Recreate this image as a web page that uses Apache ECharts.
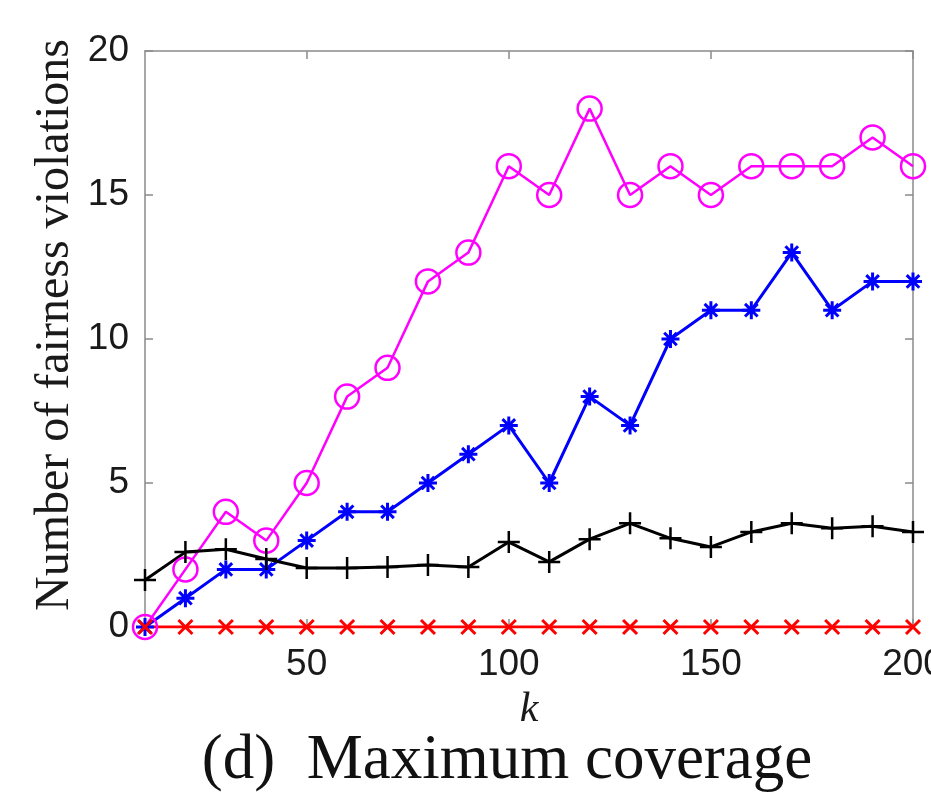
<!DOCTYPE html>
<html>
<head>
<meta charset="utf-8">
<script src="https://cdn.jsdelivr.net/npm/echarts@6/dist/echarts.min.js"></script>
<style>
html, body { margin: 0; padding: 0; background: #fff; }
#chart { width: 931px; height: 802px; }
</style>
</head>
<body>
<div id="chart"></div>
<script>
// k values on the x axis
var kValues = [10, 20, 30, 40, 50, 60, 70, 80, 90, 100, 110, 120, 130, 140, 150, 160, 170, 180, 190, 200];
var xTicks = [50, 100, 150, 200];

// series
var magentaCircle = [0, 2, 4, 3, 5, 8, 9, 12, 13, 16, 15, 18, 15, 16, 15, 16, 16, 16, 17, 16];
var blueStar = [0, 1, 2, 2, 3, 4, 4, 5, 6, 7, 5, 8, 7, 10, 11, 11, 13, 11, 12, 12];
var blackPlus = [1.63, 2.6, 2.7, 2.36, 2.05, 2.05, 2.08, 2.15, 2.08, 2.95, 2.26, 3.05, 3.6, 3.08, 2.78, 3.3, 3.6, 3.43, 3.5, 3.3];
var redCross = [0, 0, 0, 0, 0, 0, 0, 0, 0, 0, 0, 0, 0, 0, 0, 0, 0, 0, 0, 0];

var PLUS = 'path://M0,5L10,5M5,0L5,10';
var CROSS = 'path://M0,0L10,10M0,10L10,0';
var STAR = 'path://M0,5L10,5M5,0L5,10M1.5,1.5L8.5,8.5M1.5,8.5L8.5,1.5';

function pairs(vals) {
    var out = [];
    for (var i = 0; i < kValues.length; i++) out.push([kValues[i], vals[i]]);
    return out;
}

var chart = echarts.init(document.getElementById('chart'));

var axisGray = { color: '#8a8a8a', width: 1.5 };
var tickFont = { fontFamily: 'Liberation Sans', fontSize: 37, color: '#1a1a1a' };

var option = {
    backgroundColor: '#fff',
    animation: false,
    grid: { left: 145, right: 18, top: 51, bottom: 175, containLabel: false, outerBoundsMode: 'none' },
    xAxis: [
        {
            type: 'value', min: 10, max: 200, position: 'bottom',
            axisLine: { show: true, onZero: false, lineStyle: axisGray },
            axisTick: { show: true, inside: true, length: 8, customValues: xTicks, lineStyle: axisGray },
            axisLabel: Object.assign({ margin: 19, customValues: xTicks, hideOverlap: false }, tickFont),
            splitLine: { show: false },
            name: 'k', nameLocation: 'middle', nameGap: 62, nameMoveOverlap: false,
            nameTextStyle: { fontFamily: 'Liberation Serif', fontStyle: 'italic', fontSize: 42, color: '#1a1a1a' }
        },
        {
            type: 'value', min: 10, max: 200, position: 'top',
            axisLine: { show: true, onZero: false, lineStyle: axisGray },
            axisTick: { show: true, inside: true, length: 8, customValues: xTicks, lineStyle: axisGray },
            axisLabel: { show: false },
            splitLine: { show: false }
        }
    ],
    yAxis: [
        {
            type: 'value', min: 0, max: 20, interval: 5, position: 'left',
            axisLine: { show: true, onZero: false, lineStyle: axisGray },
            axisTick: { show: true, inside: true, length: 8, lineStyle: axisGray },
            axisLabel: Object.assign({ margin: 16 }, tickFont),
            splitLine: { show: false },
            name: 'Number of fairness violations', nameLocation: 'middle', nameRotate: 90, nameGap: 66,
            nameMoveOverlap: false,
            nameTextStyle: { fontFamily: 'Liberation Serif', fontSize: 48, color: '#1a1a1a', padding: [0, 0, 0, 28] }
        },
        {
            type: 'value', min: 0, max: 20, interval: 5, position: 'right',
            axisLine: { show: true, onZero: false, lineStyle: axisGray },
            axisTick: { show: true, inside: true, length: 8, lineStyle: axisGray },
            axisLabel: { show: false },
            splitLine: { show: false }
        }
    ],
    graphic: [
        {
            type: 'text', x: 507, y: 761,
            style: {
                text: '(d)  Maximum coverage', fill: '#111',
                font: '63px "Liberation Serif"', textAlign: 'center', textVerticalAlign: 'middle'
            }
        }
    ],
    series: [
        {
            name: 'magenta', type: 'line', data: pairs(magentaCircle),
            symbol: 'circle', symbolSize: 24,
            lineStyle: { color: '#ff00ff', width: 2.5 },
            itemStyle: { color: 'rgba(0,0,0,0)', borderColor: '#ff00ff', borderWidth: 2.5 }
        },
        {
            name: 'blue', type: 'line', data: pairs(blueStar),
            symbol: STAR, symbolSize: 18,
            lineStyle: { color: '#0000ff', width: 3 },
            itemStyle: { color: '#0000ff', borderColor: '#0000ff', borderWidth: 3 }
        },
        {
            name: 'black', type: 'line', data: pairs(blackPlus),
            symbol: PLUS, symbolSize: 22,
            lineStyle: { color: '#000000', width: 3 },
            itemStyle: { color: '#000000', borderColor: '#000000', borderWidth: 2.5 }
        },
        {
            name: 'red', type: 'line', data: pairs(redCross),
            symbol: CROSS, symbolSize: 14,
            lineStyle: { color: '#ff0000', width: 3 },
            itemStyle: { color: '#ff0000', borderColor: '#ff0000', borderWidth: 3 }
        }
    ]
};

chart.setOption(option);
</script>
</body>
</html>
